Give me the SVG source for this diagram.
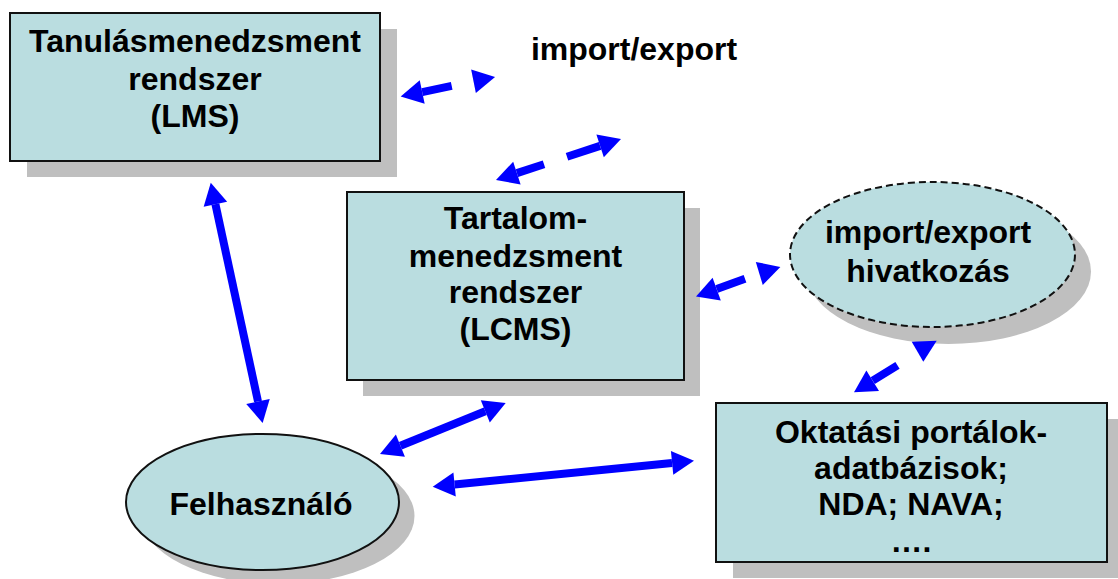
<svg xmlns="http://www.w3.org/2000/svg" width="1118" height="579" viewBox="0 0 1118 579">
  <style>
    .box { fill: #BADDE0; stroke: #111; stroke-width: 2; }
    .shadow { fill: #BFBFBF; }
    .lbl { font-family: "Liberation Sans", Arial, sans-serif; font-weight: bold; font-size: 32px; fill: #000; text-anchor: middle; }
    .shaft { stroke: #0000FF; stroke-width: 8; fill: none; }
    .head { fill: #0000FF; }
  </style>
  <defs>
    <marker id="ah" markerUnits="userSpaceOnUse" markerWidth="24" markerHeight="26" refX="0" refY="12" orient="auto-start-reverse" overflow="visible">
      <path d="M0,0 L22,12 L0,24 Z" fill="#0000FF"/>
    </marker>
  </defs>
  <rect width="1118" height="579" fill="#fff"/>

  <!-- Learning management system -->
  <g id="lms">
    <rect class="shadow" x="27" y="29" width="370" height="148"/>
    <rect class="box" x="10" y="13" width="370" height="148"/>
    <text class="lbl" x="195" y="52">Tanulásmenedzsment</text>
    <text class="lbl" x="195" y="89.5">rendszer</text>
    <text class="lbl" x="195" y="127">(LMS)</text>
  </g>

  <!-- Content management system -->
  <g id="lcms">
    <rect class="shadow" x="363" y="208" width="337" height="188"/>
    <rect class="box" x="347" y="192" width="337" height="188"/>
    <text class="lbl" x="515.5" y="229">Tartalom-</text>
    <text class="lbl" x="515.5" y="266.5">menedzsment</text>
    <text class="lbl" x="515.5" y="303">rendszer</text>
    <text class="lbl" x="515.5" y="339.5">(LCMS)</text>
  </g>

  <!-- Import/export reference -->
  <g id="ref">
    <ellipse class="shadow" cx="948.5" cy="271.5" rx="142.5" ry="72.5"/>
    <ellipse class="box" cx="932.5" cy="254.5" rx="142.5" ry="72.5" stroke-dasharray="7 4"/>
    <text class="lbl" x="928" y="243">import/export</text>
    <text class="lbl" x="928" y="282">hivatkozás</text>
  </g>

  <!-- User -->
  <g id="user">
    <ellipse class="shadow" cx="278" cy="516" rx="136.5" ry="68"/>
    <ellipse class="box" cx="262.5" cy="502" rx="136.5" ry="68"/>
    <text class="lbl" x="261" y="515">Felhasználó</text>
  </g>

  <!-- Portals and databases -->
  <g id="portals">
    <rect class="shadow" x="733" y="419" width="391" height="159"/>
    <rect class="box" x="716" y="403" width="391" height="159"/>
    <text class="lbl" x="911" y="443">Oktatási portálok-</text>
    <text class="lbl" x="911" y="478.5">adatbázisok;</text>
    <text class="lbl" x="911" y="515">NDA; NAVA;</text>
    <text class="lbl" x="911" y="552">….</text>
  </g>

  <text class="lbl" x="634" y="60">import/export</text>

  <g id="connectors">
    <!-- solid two-way arrows -->
    <line class="shaft" x1="215.4" y1="204.2" x2="258.0" y2="401.5" marker-start="url(#ah)" marker-end="url(#ah)"/>
    <line class="shaft" x1="400.4" y1="445.7" x2="485.3" y2="411.3" marker-start="url(#ah)" marker-end="url(#ah)"/>
    <line class="shaft" x1="454.6" y1="484.5" x2="672.1" y2="462.9" marker-start="url(#ah)" marker-end="url(#ah)"/>

    <!-- dashed two-way arrows -->
    <line class="shaft" x1="422.2" y1="92.1" x2="451.7" y2="85.9" marker-start="url(#ah)"/>
    <line x1="470" y1="82" x2="473.5" y2="81.3" stroke="none" marker-end="url(#ah)"/>

    <line class="shaft" x1="516.9" y1="173.1" x2="544" y2="164.3" marker-start="url(#ah)"/>
    <line class="shaft" x1="567" y1="156.7" x2="600.1" y2="145.9" marker-end="url(#ah)"/>

    <line class="shaft" x1="716.7" y1="289.1" x2="745" y2="278.8" marker-start="url(#ah)"/>
    <line x1="755" y1="274.7" x2="759.3" y2="273.4" stroke="none" marker-end="url(#ah)"/>

    <line class="shaft" x1="872.7" y1="380.7" x2="897.5" y2="365.3" marker-start="url(#ah)"/>
    <polygon class="head" points="911.7,341.7 936.7,340.7 923.3,361.7"/>
  </g>
</svg>
